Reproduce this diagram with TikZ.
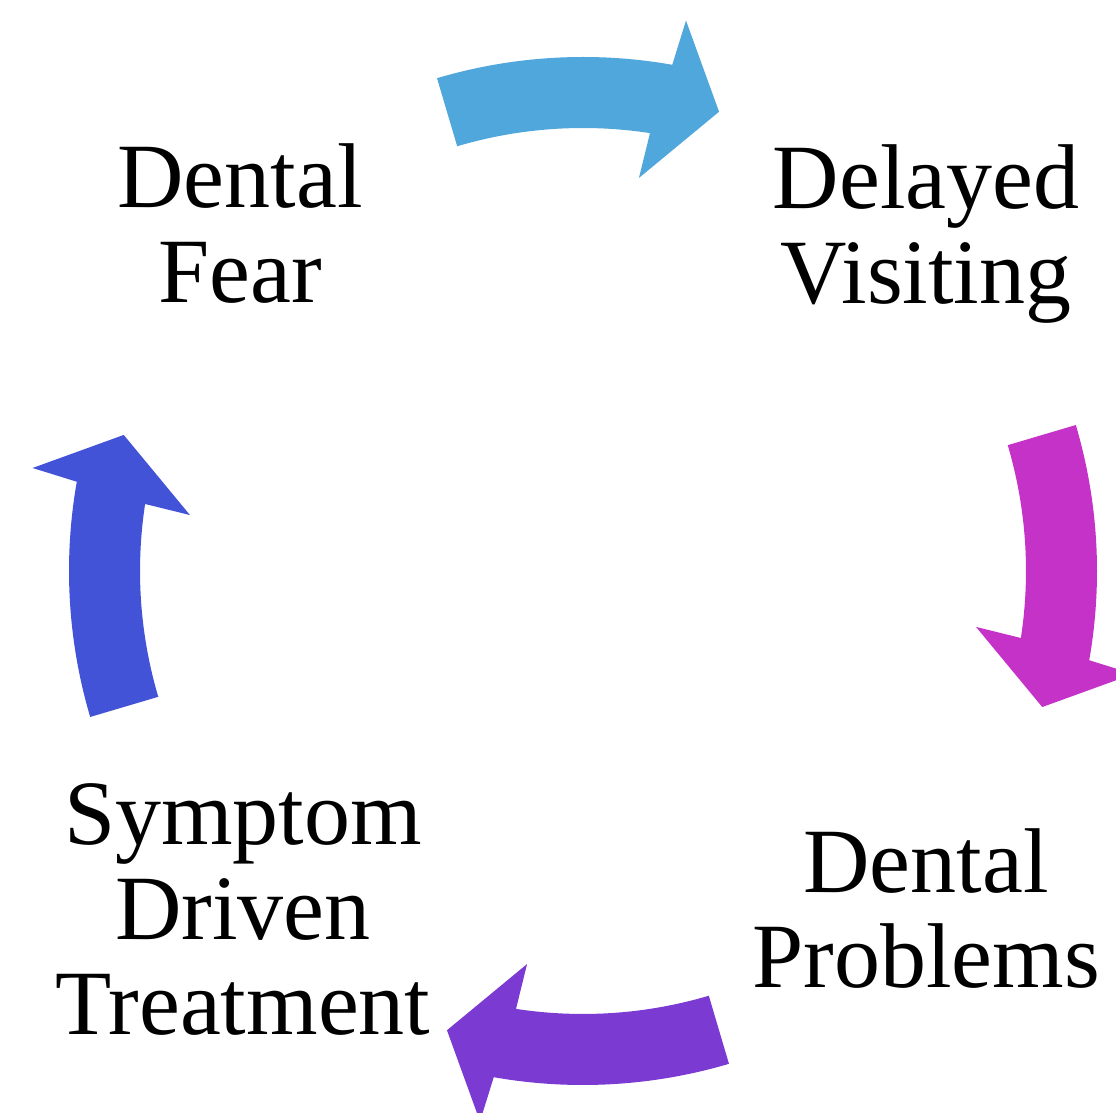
\documentclass[tikz,border=0pt]{standalone}
\usepackage{fontspec}
\setmainfont{Liberation Serif}
\definecolor{cA}{HTML}{50A7DC}
\definecolor{cB}{HTML}{C532C8}
\definecolor{cC}{HTML}{7B3AD2}
\definecolor{cD}{HTML}{4253D8}
\newcommand{\cycarrow}[2]{%
  \fill[#2, shift={(583,542)}]
    ({106.5+#1}:514) arc[start angle={106.5+#1}, end angle={80+#1}, radius=514]
    -- ({79.4+#1}:560) -- ({73.5+#1}:479) -- ({81.9+#1}:397) -- ({81.3+#1}:443)
    arc[start angle={81.3+#1}, end angle={106.5+#1}, radius=443] -- cycle;}
\begin{document}
\begin{tikzpicture}[x=1pt,y=1pt,
  lbl/.style={align=center, inner sep=0pt, font=\fontsize{92}{95}\selectfont}]
\useasboundingbox[fill=white] (0,0) rectangle (1116,1113);
\cycarrow{0}{cA}
\cycarrow{-90}{cB}
\cycarrow{-180}{cC}
\cycarrow{90}{cD}
\node[lbl] (fear) at (240,1113-224) {Dental\\Fear};
\node[lbl] (delay) at (926,1113-234) {Delayed\\Visiting};
\node[lbl] (probs) at (926,1113-909) {Dental\\Problems};
\node[lbl] (sympt) at (243,1113-909) {Symptom\\Driven\\Treatment};
\end{tikzpicture}
\end{document}
